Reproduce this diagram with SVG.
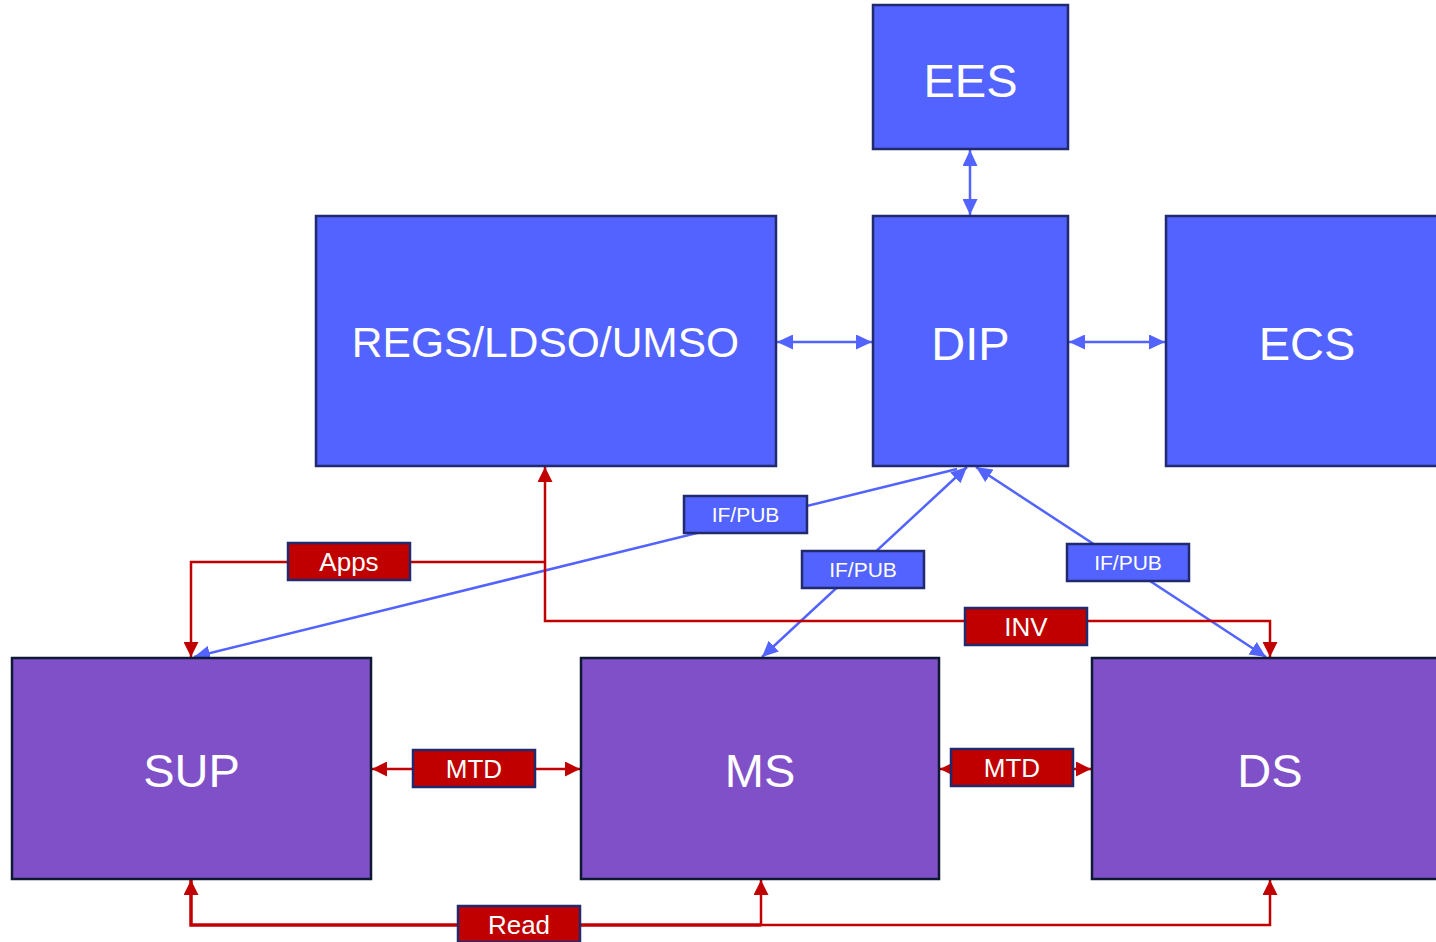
<svg xmlns="http://www.w3.org/2000/svg" width="1436" height="942" viewBox="0 0 1436 942">
<style>
.bn{fill:#5263FF;stroke:#222A6E;stroke-width:2.5}
.pn{fill:#7F50C8;stroke:#0E1A33;stroke-width:2.5}
.nt{font-family:"Liberation Sans",Arial,sans-serif;fill:#FFFFFF;text-anchor:middle}
.bl{fill:#5263FF;stroke:#222A6E;stroke-width:2.5}
.rl{fill:#C00000;stroke:#222A6E;stroke-width:2.5}
.bc{fill:none;stroke:#5263FF;stroke-width:2.5}
.rc{fill:none;stroke:#C00000;stroke-width:2.5}
</style>
<defs>
<marker id="ab" viewBox="0 0 16 15" refX="16" refY="7.5" markerWidth="16" markerHeight="15" markerUnits="userSpaceOnUse" orient="auto-start-reverse">
<path d="M0,0 L16,7.5 L0,15 z" fill="#5263FF"/>
</marker>
<marker id="ar" viewBox="0 0 15 15" refX="15" refY="7.5" markerWidth="15" markerHeight="15" markerUnits="userSpaceOnUse" orient="auto-start-reverse">
<path d="M0,0 L15,7.5 L0,15 z" fill="#C00000"/>
</marker>
</defs>
<rect width="1436" height="942" fill="#FFFFFF"/>
<g id="connectors">
<path class="bc" d="M970,150 L970,215" marker-start="url(#ab)" marker-end="url(#ab)"/>
<path class="bc" d="M777,342 L872,342" marker-start="url(#ab)" marker-end="url(#ab)"/>
<path class="bc" d="M1069,342 L1165,342" marker-start="url(#ab)" marker-end="url(#ab)"/>
<path class="bc" d="M957,469 L194,657" marker-end="url(#ab)"/>
<path class="bc" d="M967,467 L762,657" marker-start="url(#ab)" marker-end="url(#ab)"/>
<path class="bc" d="M976,467 L1266,657" marker-start="url(#ab)" marker-end="url(#ab)"/>
<path class="rc" d="M545,467 V621 H1270 V657" marker-start="url(#ar)" marker-end="url(#ar)"/>
<path class="rc" d="M545,562 H191 V657" marker-end="url(#ar)"/>
<path class="rc" d="M372,769 H580" marker-start="url(#ar)" marker-end="url(#ar)"/>
<path class="rc" d="M940,769 H1091" marker-start="url(#ar)" marker-end="url(#ar)"/>
<path class="rc" style="stroke-width:3.5" d="M191,880 V925 H761" marker-start="url(#ar)"/>
<path class="rc" d="M761,880 V925 H1270 V880" marker-start="url(#ar)" marker-end="url(#ar)"/>
</g>
<g id="EES"><rect class="bn" x="873" y="5" width="195" height="144"/><text class="nt" x="970.5" y="97" font-size="47">EES</text></g>
<g id="REGS"><rect class="bn" x="316" y="216" width="460" height="250"/><text class="nt" x="545.5" y="357" font-size="42.5">REGS/LDSO/UMSO</text></g>
<g id="DIP"><rect class="bn" x="873" y="216" width="195" height="250"/><text class="nt" x="970.5" y="360" font-size="47">DIP</text></g>
<g id="ECS"><rect class="bn" x="1166" y="216" width="282" height="250"/><text class="nt" x="1307" y="360" font-size="47">ECS</text></g>
<g id="SUP"><rect class="pn" x="12" y="658" width="359" height="221"/><text class="nt" x="191.5" y="787" font-size="47">SUP</text></g>
<g id="MS"><rect class="pn" x="581" y="658" width="358" height="221"/><text class="nt" x="760" y="787" font-size="47">MS</text></g>
<g id="DS"><rect class="pn" x="1092" y="658" width="356" height="221"/><text class="nt" x="1270" y="787" font-size="47">DS</text></g>
<g id="label-ifpub1"><rect class="bl" x="684" y="496" width="123" height="37"/><text class="nt" x="745.5" y="522" font-size="21">IF/PUB</text></g>
<g id="label-ifpub2"><rect class="bl" x="802" y="551" width="122" height="37"/><text class="nt" x="863" y="577" font-size="21">IF/PUB</text></g>
<g id="label-ifpub3"><rect class="bl" x="1067" y="544" width="122" height="37"/><text class="nt" x="1128" y="570" font-size="21">IF/PUB</text></g>
<g id="label-apps"><rect class="rl" x="288" y="543" width="122" height="37"/><text class="nt" x="349" y="571" font-size="26">Apps</text></g>
<g id="label-inv"><rect class="rl" x="965" y="608" width="122" height="37"/><text class="nt" x="1026" y="636" font-size="26">INV</text></g>
<g id="label-mtd1"><rect class="rl" x="413" y="750" width="122" height="37"/><text class="nt" x="474" y="778" font-size="26">MTD</text></g>
<g id="label-mtd2"><rect class="rl" x="951" y="749" width="122" height="37"/><text class="nt" x="1012" y="777" font-size="26">MTD</text></g>
<g id="label-read"><rect class="rl" x="458" y="906" width="122" height="36"/><text class="nt" x="519" y="934" font-size="26">Read</text></g>
</svg>
